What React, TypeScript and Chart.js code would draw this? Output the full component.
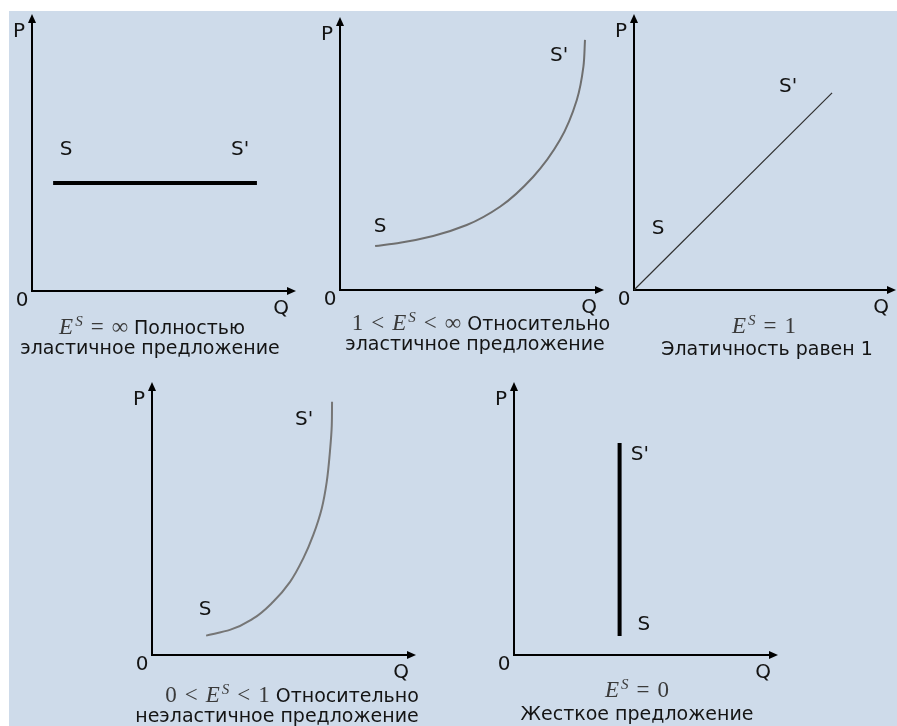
import React, { useEffect, useRef } from "react";
import { Chart, registerables } from "chart.js";

Chart.register(...registerables);

// ---------- data (x: quantity Q, y: price P, both on a 0..10 scale) ----------
const perfectlyElasticX = [0.8, 8.52];
const perfectlyElasticY = [3.9, 3.9];

const relElasticX = [1.33, 2.27, 3.53, 4.8, 6.06, 7.32, 8.33, 8.97, 9.22, 9.28];
const relElasticY = [1.61, 1.73, 1.98, 2.38, 3.05, 4.15, 5.49, 6.96, 8.18, 9.16];

const unitElasticX = [0, 7.56];
const unitElasticY = [0, 7.14];

const relInelasticX = [2.05, 2.95, 3.84, 4.59, 5.23, 5.73, 6.11, 6.43, 6.62, 6.74, 6.81, 6.82];
const relInelasticY = [0.71, 0.92, 1.34, 1.95, 2.68, 3.54, 4.4, 5.37, 6.35, 7.45, 8.42, 9.28];

const perfectlyInelasticX = [4.0, 4.0];
const perfectlyInelasticY = [0.7, 7.77];

// curve labels: [text, x, y]
const labels1: [string, number, number][] = [["S", 1.29, 5.09], ["S'", 7.88, 5.09]];
const labels2: [string, number, number][] = [["S", 1.52, 2.31], ["S'", 8.3, 8.57]];
const labels3: [string, number, number][] = [["S", 0.92, 2.21], ["S'", 5.88, 7.36]];
const labels4: [string, number, number][] = [["S", 2.01, 1.65], ["S'", 5.76, 8.61]];
const labels5: [string, number, number][] = [["S", 4.92, 1.1], ["S'", 4.77, 7.33]];

const axisLabels = ["P", "Q", "0"];

const TEXT_FONT = '"DejaVu Sans", Verdana, sans-serif';
const MATH_FONT = '"Liberation Serif", "DejaVu Serif", serif';

type PanelSpec = {
  ox: number; oy: number; xe: number; yt: number;
  xs: number[]; ys: number[];
  color: string; width: number; smooth: boolean;
  labels: [string, number, number][];
};

const panels: PanelSpec[] = [
  { ox: 32, oy: 291, xe: 296, yt: 14, xs: perfectlyElasticX, ys: perfectlyElasticY, color: "#000000", width: 4, smooth: false, labels: labels1 },
  { ox: 340, oy: 290, xe: 604, yt: 17, xs: relElasticX, ys: relElasticY, color: "#6f6f6f", width: 2, smooth: true, labels: labels2 },
  { ox: 634, oy: 290, xe: 896, yt: 14, xs: unitElasticX, ys: unitElasticY, color: "#303030", width: 1.2, smooth: false, labels: labels3 },
  { ox: 152, oy: 655, xe: 416, yt: 382, xs: relInelasticX, ys: relInelasticY, color: "#767676", width: 2, smooth: true, labels: labels4 },
  { ox: 514, oy: 655, xe: 778, yt: 382, xs: perfectlyInelasticX, ys: perfectlyInelasticY, color: "#000000", width: 4, smooth: false, labels: labels5 },
];

const PAD_L = 30, PAD_T = 4, PAD_R = 4, PAD_B = 30;

function makeAxesPlugin(spec: PanelSpec) {
  return {
    id: "econAxes",
    beforeDatasetsDraw(chart: any) {
      const { ctx, chartArea } = chart;
      const { left, right, top, bottom } = chartArea;
      ctx.save();
      ctx.strokeStyle = "#000";
      ctx.fillStyle = "#000";
      ctx.lineWidth = 2;
      ctx.beginPath();
      ctx.moveTo(left, top + 6);
      ctx.lineTo(left, bottom);
      ctx.lineTo(right - 6, bottom);
      ctx.stroke();
      ctx.beginPath();
      ctx.moveTo(left, top);
      ctx.lineTo(left - 4, top + 9);
      ctx.lineTo(left + 4, top + 9);
      ctx.closePath();
      ctx.fill();
      ctx.beginPath();
      ctx.moveTo(right, bottom);
      ctx.lineTo(right - 9, bottom - 4);
      ctx.lineTo(right - 9, bottom + 4);
      ctx.closePath();
      ctx.fill();
      ctx.restore();
    },
    afterDatasetsDraw(chart: any) {
      const { ctx, chartArea, scales } = chart;
      const { left, right, top, bottom } = chartArea;
      ctx.save();
      ctx.fillStyle = "#141414";
      ctx.font = `20px ${TEXT_FONT}`;
      ctx.textAlign = "center";
      ctx.textBaseline = "middle";
      ctx.fillText(axisLabels[0], left - 13, top + 18);
      ctx.fillText(axisLabels[1], right - 15, bottom + 18);
      ctx.fillText(axisLabels[2], left - 10, bottom + 10);
      for (const [t, x, y] of spec.labels) {
        ctx.fillText(t, scales.x.getPixelForValue(x), scales.y.getPixelForValue(y));
      }
      ctx.restore();
    },
  };
}

function Panel({ spec }: { spec: PanelSpec }) {
  const ref = useRef<HTMLCanvasElement | null>(null);
  const w = spec.xe - spec.ox + PAD_L + PAD_R;
  const h = spec.oy - spec.yt + PAD_T + PAD_B;
  useEffect(() => {
    if (!ref.current) return;
    const ds: any = {
      data: spec.xs.map((x, i) => ({ x, y: spec.ys[i] })),
      showLine: true,
      borderColor: spec.color,
      borderWidth: spec.width,
      pointRadius: 0,
      fill: false,
      clip: false,
      borderCapStyle: "butt",
    };
    if (spec.smooth) {
      ds.indexAxis = "y";
      ds.cubicInterpolationMode = "monotone";
    }
    const chart = new Chart(ref.current, {
      type: "scatter",
      data: { datasets: [ds] },
      options: {
        animation: false,
        responsive: false,
        devicePixelRatio: 1,
        events: [],
        layout: { padding: { left: PAD_L, top: PAD_T, right: PAD_R, bottom: PAD_B } },
        scales: {
          x: { type: "linear", min: 0, max: 10, display: false },
          y: { type: "linear", min: 0, max: 10, display: false },
        },
        plugins: { legend: { display: false }, tooltip: { enabled: false }, title: { display: false } },
      },
      plugins: [makeAxesPlugin(spec)],
    });
    return () => chart.destroy();
  }, []);
  return (
    <canvas
      ref={ref}
      width={w}
      height={h}
      style={{ position: "absolute", left: spec.ox - PAD_L, top: spec.yt - PAD_T, width: w, height: h }}
    />
  );
}

const mathStyle: React.CSSProperties = { fontFamily: MATH_FONT, color: "#3a3a3a", fontSize: 23 };

function ES() {
  return (
    <span style={mathStyle}>
      <i style={{ letterSpacing: 2 }}>E</i>
      <sup style={{ fontSize: 15, verticalAlign: "8px", lineHeight: 0 }}><i>S</i></sup>
    </span>
  );
}

function Rel({ children }: { children: React.ReactNode }) {
  return <span style={{ ...mathStyle, margin: "0 8px" }}>{children}</span>;
}

function Num({ children }: { children: React.ReactNode }) {
  return <span style={mathStyle}>{children}</span>;
}

type Caption = { cx: number; top: number; content: React.ReactNode };

const captions: Caption[] = [
  { cx: 152, top: 317, content: <><ES /><Rel>=</Rel><Num>∞</Num>{" Полностью"}</> },
  { cx: 150, top: 337, content: "эластичное предложение" },
  { cx: 481, top: 313, content: <><Num>1</Num><Rel>&lt;</Rel><ES /><Rel>&lt;</Rel><Num>∞</Num>{" Относительно"}</> },
  { cx: 475, top: 333, content: "эластичное предложение" },
  { cx: 764, top: 316, content: <><ES /><Rel>=</Rel><Num>1</Num></> },
  { cx: 767, top: 338, content: "Элатичность равен 1" },
  { cx: 292, top: 685, content: <><Num>0</Num><Rel>&lt;</Rel><ES /><Rel>&lt;</Rel><Num>1</Num>{" Относительно"}</> },
  { cx: 277, top: 705, content: "неэластичное предложение" },
  { cx: 637, top: 680, content: <><ES /><Rel>=</Rel><Num>0</Num></> },
  { cx: 637, top: 703, content: "Жесткое предложение" },
];

export default function App() {
  return (
    <div
      style={{
        position: "absolute",
        left: 0,
        top: 0,
        width: 897,
        height: 726,
        background: "#ffffff",
        overflow: "hidden",
        fontFamily: TEXT_FONT,
      }}
    >
      <div style={{ position: "absolute", left: 9, top: 11, width: 888, height: 715, background: "#cedbea" }} />
      {panels.map((p, i) => (
        <Panel key={i} spec={p} />
      ))}
      {captions.map((c, i) => (
        <div
          key={i}
          style={{
            position: "absolute",
            left: c.cx,
            top: c.top,
            transform: "translateX(-50%)",
            whiteSpace: "pre",
            fontSize: 19,
            lineHeight: "20px",
            color: "#141414",
          }}
        >
          {c.content}
        </div>
      ))}
    </div>
  );
}
